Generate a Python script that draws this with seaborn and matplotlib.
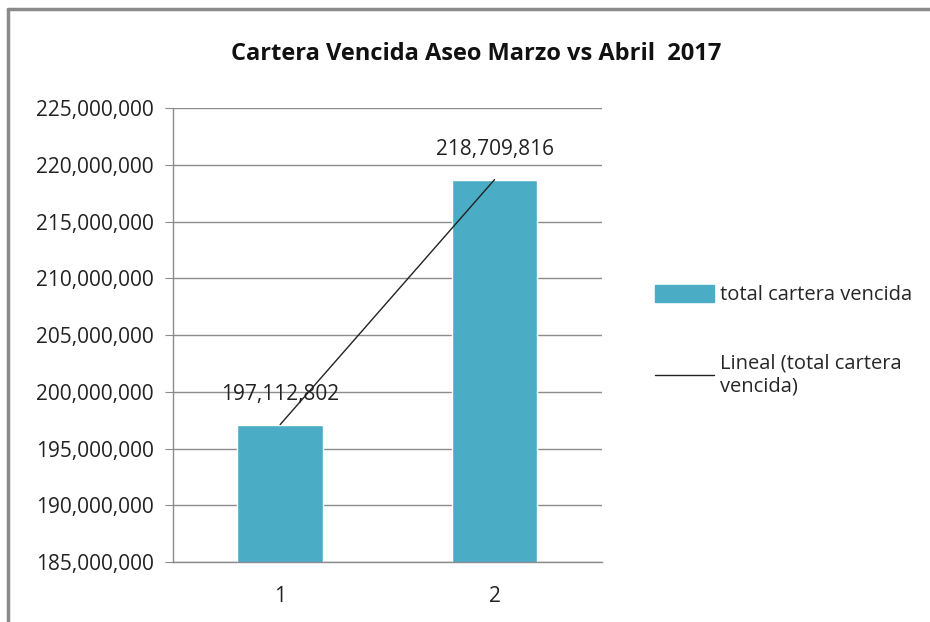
import numpy as np
import pandas as pd
import seaborn as sns
import matplotlib.pyplot as plt
import matplotlib.ticker as ticker
from matplotlib.lines import Line2D

categories = ["1", "2"]
values = [197112802, 218709816]
series_name = "total cartera vencida"
trend_name = "Lineal (total cartera\nvencida)"
title = "Cartera Vencida Aseo Marzo vs Abril  2017"
y_ticks = [185000000, 190000000, 195000000, 200000000, 205000000,
           210000000, 215000000, 220000000, 225000000]

df = pd.DataFrame({"cat": categories, "val": values})

sns.set_style("white")
plt.rcParams['font.family'] = ['Open Sans', 'DejaVu Sans']

fig = plt.figure(figsize=(9.3, 6.22), dpi=100)
ax = fig.add_axes([0.186, 0.0965, 0.461, 0.7295])

sns.barplot(data=df, x="cat", y="val", color="#4BACC6", width=0.4,
            saturation=1, ax=ax, zorder=2)

# linear trend line through the bars
xs = np.arange(1, len(values) + 1)
coef = np.polyfit(xs, values, 1)
trend = np.polyval(coef, xs)
ax.plot(xs - 1, trend, color="#222222", lw=1, zorder=3)

for i, v in enumerate(values):
    ax.text(i, v + 1700000, f"{v:,}", ha="center", va="bottom", fontsize=15, color="#222222")

ax.set_ylim(185000000, 225000000)
ax.set_xlim(-0.5, 1.5)
ax.set_yticks(y_ticks)
ax.yaxis.set_major_formatter(ticker.FuncFormatter(lambda v, p: f"{int(v):,}"))
ax.yaxis.grid(True, color="#8c8c8c", lw=1)
ax.set_axisbelow(True)
ax.set(xlabel="", ylabel="")

ax.xaxis.set_minor_locator(ticker.FixedLocator([-0.5, 0.5, 1.5]))
ax.tick_params(axis="x", which="major", length=0, labelsize=15, pad=17, labelcolor="#222222")
ax.tick_params(axis="x", which="minor", length=7, color="#8c8c8c", direction="out")
ax.tick_params(axis="y", length=6, color="#8c8c8c", direction="out", labelsize=15, pad=8, labelcolor="#222222", left=True)

for s in ["top", "right"]:
    ax.spines[s].set_visible(False)
for s in ["left", "bottom"]:
    ax.spines[s].set_color("#8c8c8c")
    ax.spines[s].set_linewidth(1)

fig.text(0.512, 0.913, title, ha="center", va="center", fontsize=17, fontweight="bold", color="#111111")

handles = [plt.Rectangle((0, 0), 1, 1, color="#4BACC6"),
           Line2D([0], [0], color="#222222", lw=1)]
fig.legend(handles, [series_name, trend_name], loc="center left",
           bbox_to_anchor=(0.685, 0.452), frameon=False, fontsize=14.5,
           handlelength=2.9, handleheight=0.9, labelspacing=2.4, handletextpad=0.3)

# chart frame (top and left edges visible)
fig.add_artist(Line2D([0.009, 1.0], [0.986, 0.986], color="#8a8a8a", lw=2.5))
fig.add_artist(Line2D([0.009, 0.009], [0.0, 0.986], color="#8a8a8a", lw=2.5))

fig.savefig("out.png", dpi=100)
